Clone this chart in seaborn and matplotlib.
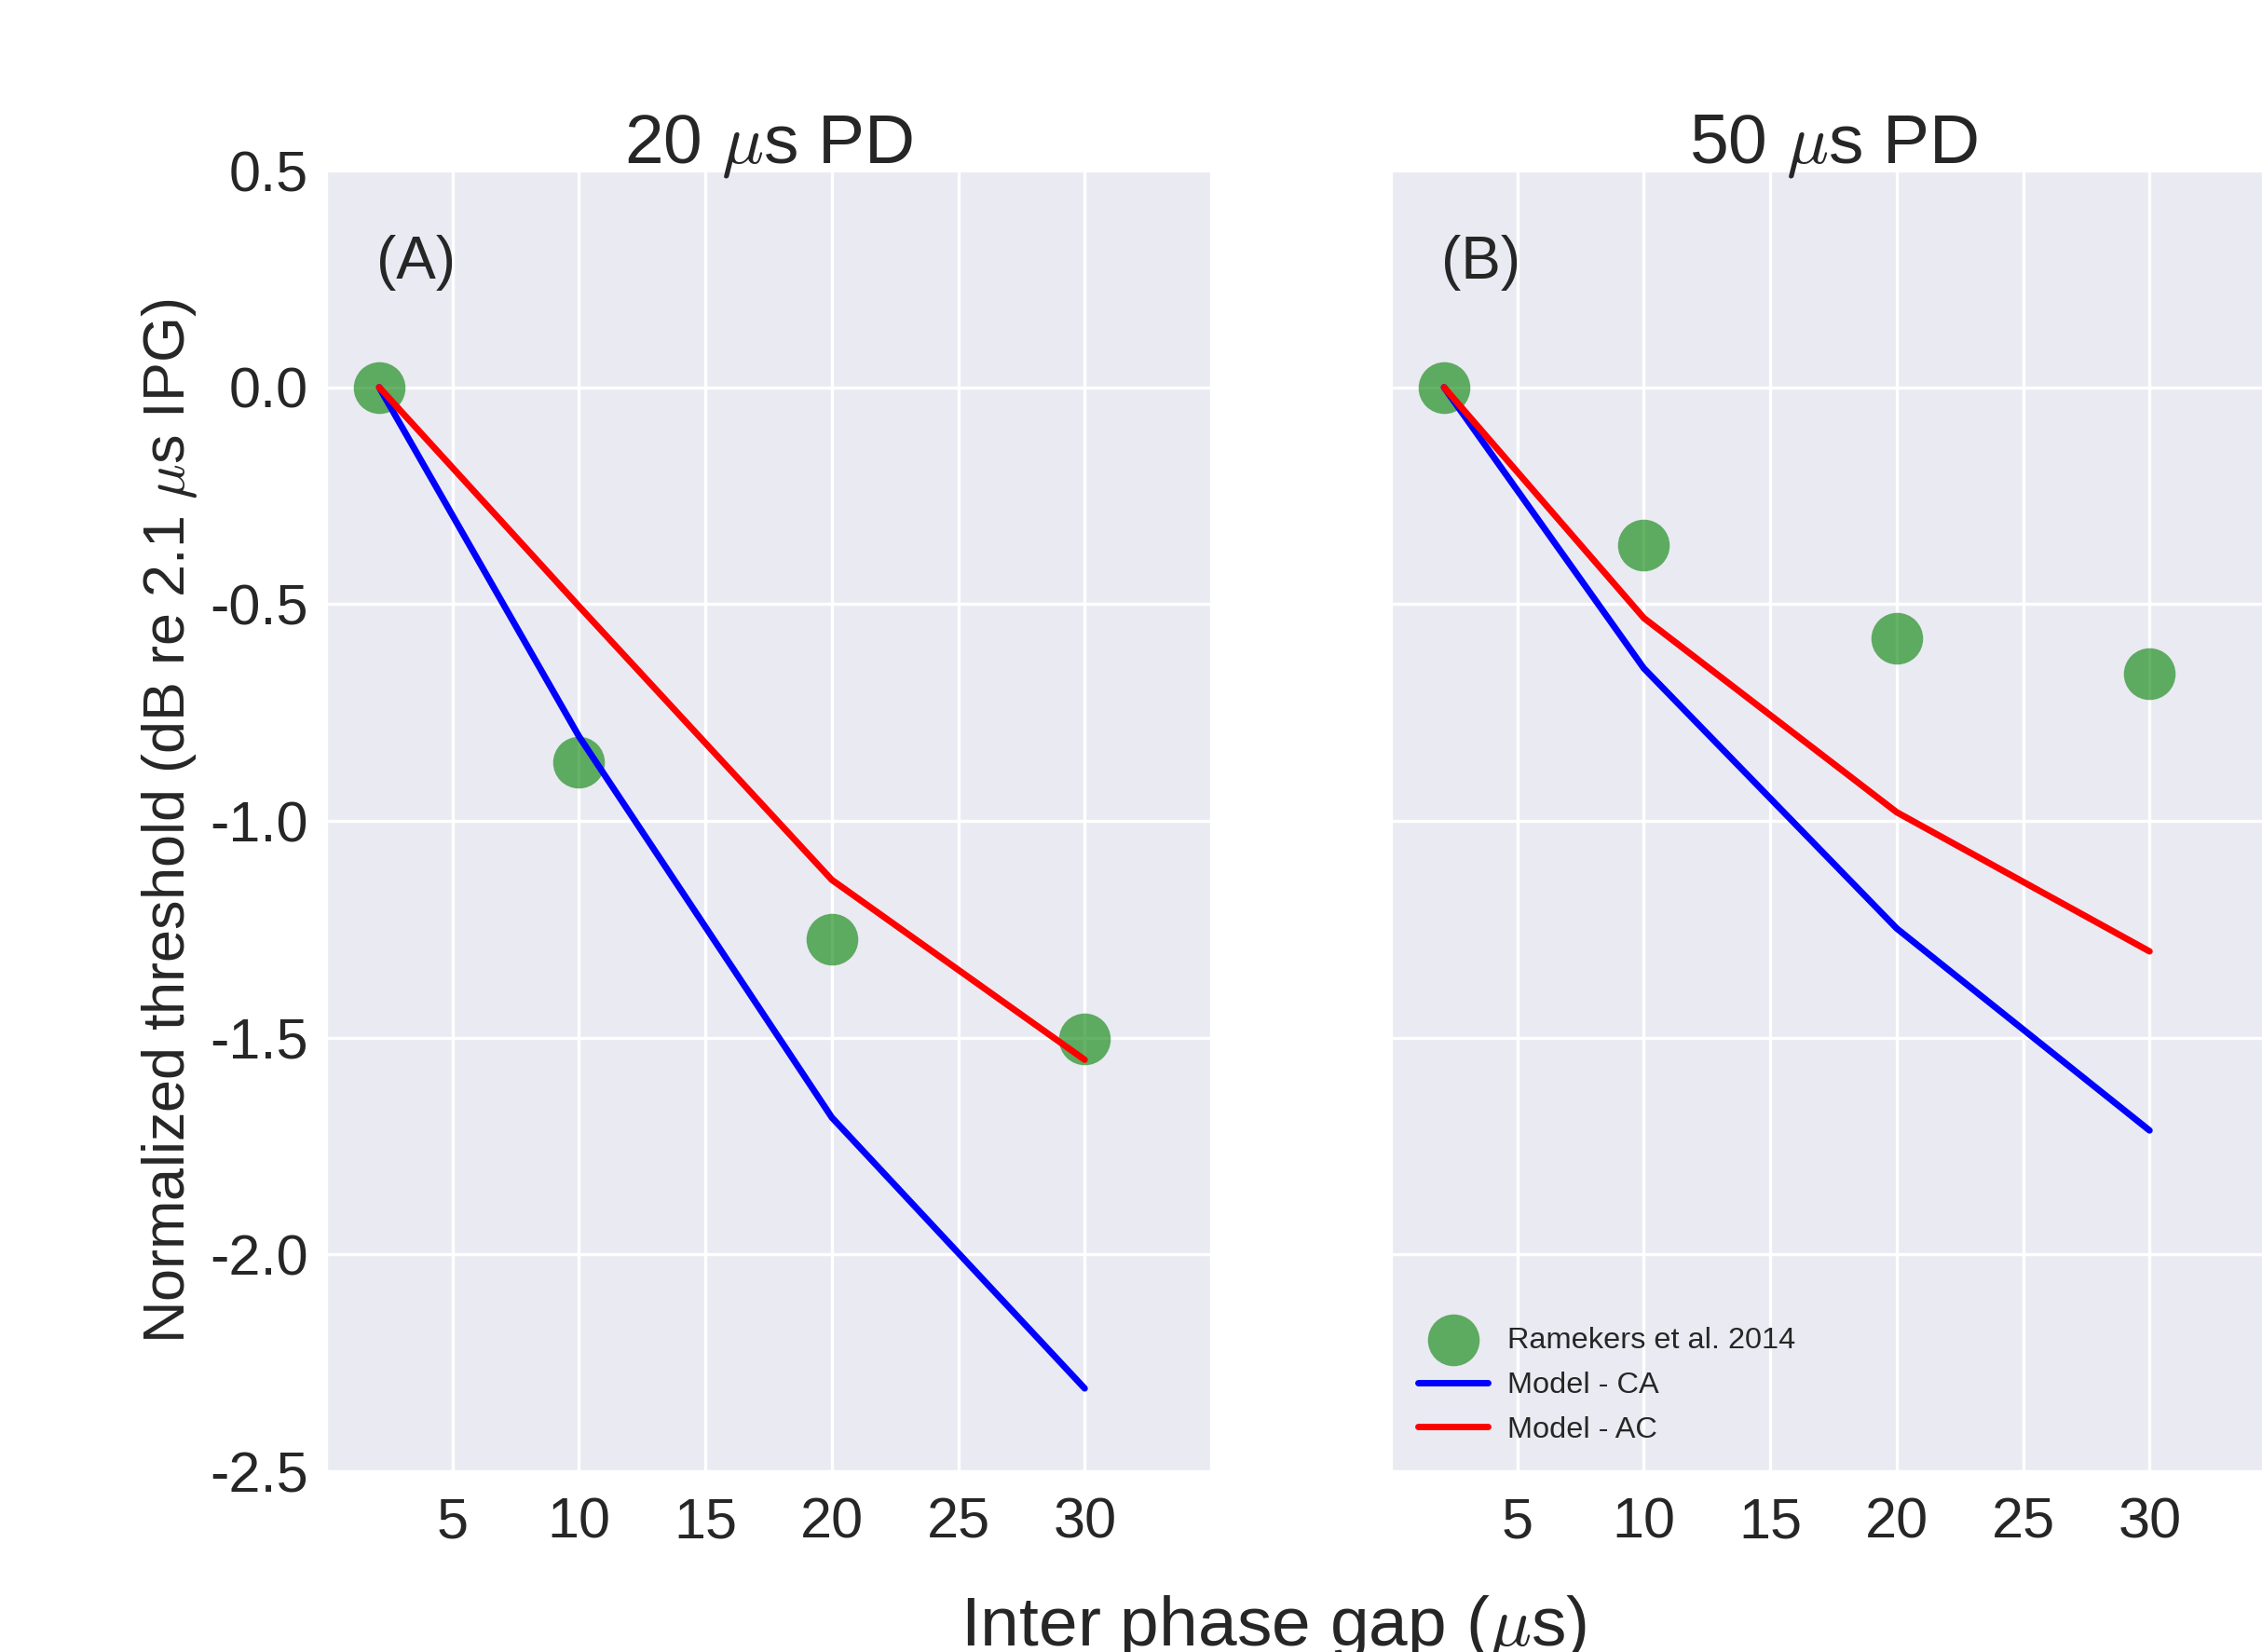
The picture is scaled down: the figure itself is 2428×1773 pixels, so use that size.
import matplotlib
matplotlib.use("Agg")
import matplotlib.pyplot as plt
import seaborn as sns
import pandas as pd

# ---- data ----
ipg = [2.1, 10, 20, 30]
panel_titles = ["20 $\\mu$s PD", "50 $\\mu$s PD"]
panel_tags = ["(A)", "(B)"]

data_20 = [0.0, -0.865, -1.272, -1.502]
ca_20 = [0.0, -0.805, -1.684, -2.309]
ac_20 = [0.0, -0.505, -1.136, -1.551]

data_50 = [0.0, -0.364, -0.579, -0.660]
ca_50 = [0.0, -0.648, -1.248, -1.714]
ac_50 = [0.0, -0.532, -0.980, -1.301]

xticks = [0, 5, 10, 15, 20, 25, 30, 35]
xticklabels = ["", "5", "10", "15", "20", "25", "30", ""]
yticks = [0.5, 0.0, -0.5, -1.0, -1.5, -2.0, -2.5]
yticklabels = ["0.5", "0.0", "-0.5", "-1.0", "-1.5", "-2.0", "-2.5"]

labels = ["Ramekers et al. 2014", "Model - CA", "Model - AC"]

# ---- style ----
sns.set_style("darkgrid")
plt.rcParams["font.family"] = ["Liberation Sans", "DejaVu Sans"]
plt.rcParams["mathtext.fontset"] = "cm"
plt.rcParams["text.color"] = "#262626"
plt.rcParams["xtick.color"] = "#262626"
plt.rcParams["ytick.color"] = "#262626"
plt.rcParams["grid.linewidth"] = 1.2

W, H = 2428, 1773
DPI = 200
fig = plt.figure(figsize=(W / DPI, H / DPI), dpi=DPI)

ax_w = 950 / W
ax_h = 1396 / H
bottom = (H - 1579) / H
ax1 = fig.add_axes([350 / W, bottom, ax_w, ax_h])
ax2 = fig.add_axes([1493 / W, bottom, ax_w, ax_h])

panels = [(ax1, data_20, ca_20, ac_20), (ax2, data_50, ca_50, ac_50)]

for i, (ax, d, ca, ac) in enumerate(panels):
    df = pd.DataFrame({"ipg": ipg, "data": d, "ca": ca, "ac": ac})
    sns.scatterplot(data=df, x="ipg", y="data", ax=ax, color="g", alpha=0.6,
                    s=400, linewidth=0, label=labels[0], zorder=2)
    sns.lineplot(data=df, x="ipg", y="ca", ax=ax, color="blue", lw=2.5,
                 label=labels[1], zorder=3)
    sns.lineplot(data=df, x="ipg", y="ac", ax=ax, color="red", lw=2.5,
                 label=labels[2], zorder=3)
    ax.set_xlim(0, 35)
    ax.set_ylim(-2.5, 0.5)
    ax.set_xticks(xticks)
    ax.set_xticklabels(xticklabels, fontsize=22)
    ax.set_yticks(yticks)
    ax.tick_params(axis="x", pad=8, length=2, width=0.6, color="#aaaaaa")
    ax.tick_params(axis="y", pad=7, length=0)
    if i == 0:
        ax.set_yticklabels(yticklabels, fontsize=22)
        ax.set_ylabel("Normalized threshold (dB re 2.1 $\\mu$s IPG)", fontsize=22.7, labelpad=4)
    else:
        ax.set_yticklabels([])
        ax.set_ylabel("")
    ax.set_xlabel("")
    ax.set_title(panel_titles[i], fontsize=27, pad=3)
    ax.text(2, 0.25, panel_tags[i], fontsize=23)
    if i == 0:
        ax.get_legend().remove()
    else:
        ax.legend(loc="lower left", frameon=False, fontsize=11.7,
                  handlelength=2.3, handletextpad=0.65, labelspacing=0.55,
                  borderaxespad=0.5)

fig.text(1367 / W, 8 / H, "Inter phase gap ($\\mu$s)", fontsize=27,
         ha="center", va="baseline")

fig.savefig("out.png", dpi=DPI)
